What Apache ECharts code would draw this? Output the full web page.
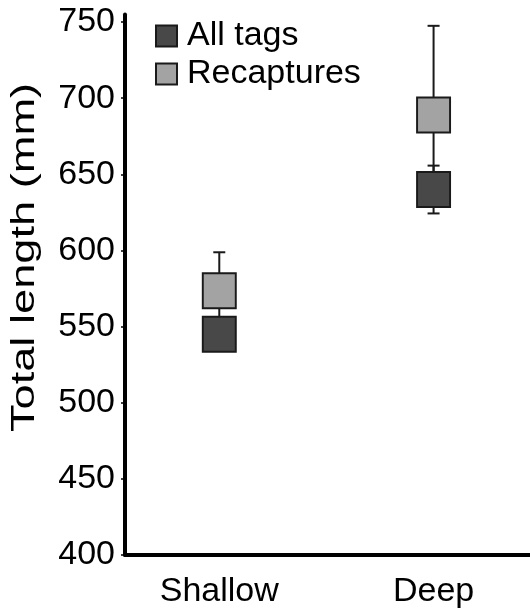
<!DOCTYPE html>
<html>
<head>
<meta charset="utf-8">
<script src="https://cdn.jsdelivr.net/npm/echarts@6/dist/echarts.min.js"></script>
<style>
html,body{margin:0;padding:0;background:#fff;}
#chart{width:530px;height:611px;}
</style>
</head>
<body>
<div id="chart"></div>
<script>
const categories = ['Shallow', 'Deep'];
const allTagsMean = [545, 640];
const allTagsErr = [8, 15.7];
const recapMean = [573.5, 689];
const recapErr = [25.3, 58.5];
const yTicks = [400, 450, 500, 550, 600, 650, 700, 750];
const seriesNames = ['All tags', 'Recaptures'];
const yTitle = 'Total length (mm)';

const FONT = 'Liberation Sans, Arial, sans-serif';
const DARK = '#484848';
const LIGHT = '#a3a3a3';

function errData(means, errs) {
  return means.map((m, i) => [i + 1, m - errs[i], m + errs[i]]);
}
function ptData(means) {
  return means.map((m, i) => [i + 1, m]);
}
function renderErr(params, api) {
  const x = api.value(0);
  const lo = api.coord([x, api.value(1)]);
  const hi = api.coord([x, api.value(2)]);
  const cw = 6;
  const st = { stroke: '#1a1a1a', lineWidth: 2 };
  return {
    type: 'group',
    children: [
      { type: 'line', shape: { x1: lo[0], y1: lo[1], x2: hi[0], y2: hi[1] }, style: st },
      { type: 'line', shape: { x1: hi[0] - cw, y1: hi[1], x2: hi[0] + cw, y2: hi[1] }, style: st },
      { type: 'line', shape: { x1: lo[0] - cw, y1: lo[1], x2: lo[0] + cw, y2: lo[1] }, style: st }
    ]
  };
}

const chart = echarts.init(document.getElementById('chart'), null, { renderer: 'canvas' });
chart.setOption({
  animation: false,
  backgroundColor: '#fff',
  textStyle: { fontFamily: FONT },
  grid: { left: 125, right: 0, top: 14.4, bottom: 56, outerBoundsMode: 'none', containLabel: false },
  legend: {
    data: seriesNames,
    orient: 'vertical',
    left: 155,
    top: 19,
    padding: 0,
    itemWidth: 21,
    itemHeight: 21,
    itemGap: 4,
    icon: 'rect',
    textStyle: { fontSize: 34, lineHeight: 34, color: '#000', fontFamily: FONT, padding: [0, 0, 0, 5] }
  },
  xAxis: {
    type: 'value',
    min: 0.56,
    max: 2.45,
    splitLine: { show: false },
    axisTick: { show: false },
    axisLine: { show: true, lineStyle: { color: '#000', width: 4 } },
    axisLabel: {
      customValues: [1, 2],
      formatter: v => categories[Math.round(v) - 1] || '',
      fontSize: 34,
      color: '#000',
      fontFamily: FONT,
      margin: 20
    }
  },
  yAxis: {
    type: 'value',
    min: 400,
    max: 755,
    splitLine: { show: false },
    axisLine: { show: true, lineStyle: { color: '#000', width: 4 } },
    axisTick: { show: true, customValues: yTicks, length: 4, lineStyle: { color: '#000', width: 1.5 } },
    axisLabel: {
      customValues: yTicks,
      fontSize: 34,
      color: '#000',
      fontFamily: FONT,
      margin: 10
    }
  },
  graphic: [{
    type: 'text',
    x: 25,
    y: 257.5,
    rotation: Math.PI / 2,
    scaleX: 1.37,
    style: {
      text: yTitle,
      font: '33px ' + FONT,
      fill: '#000',
      textAlign: 'center',
      textVerticalAlign: 'middle',
      align: 'center',
      verticalAlign: 'middle'
    }
  }],
  series: [
    {
      name: 'errAll',
      type: 'custom',
      renderItem: renderErr,
      data: errData(allTagsMean, allTagsErr),
      z: 1,
      silent: true
    },
    {
      name: 'errRecap',
      type: 'custom',
      renderItem: renderErr,
      data: errData(recapMean, recapErr),
      z: 1,
      silent: true
    },
    {
      name: seriesNames[0],
      type: 'scatter',
      symbol: 'rect',
      symbolSize: [33, 35],
      data: ptData(allTagsMean),
      itemStyle: { color: DARK, borderColor: '#1a1a1a', borderWidth: 2, opacity: 1 },
      z: 3
    },
    {
      name: seriesNames[1],
      type: 'scatter',
      symbol: 'rect',
      symbolSize: [33, 35],
      data: ptData(recapMean),
      itemStyle: { color: LIGHT, borderColor: '#1a1a1a', borderWidth: 2, opacity: 1 },
      z: 3
    }
  ]
});
</script>
</body>
</html>
